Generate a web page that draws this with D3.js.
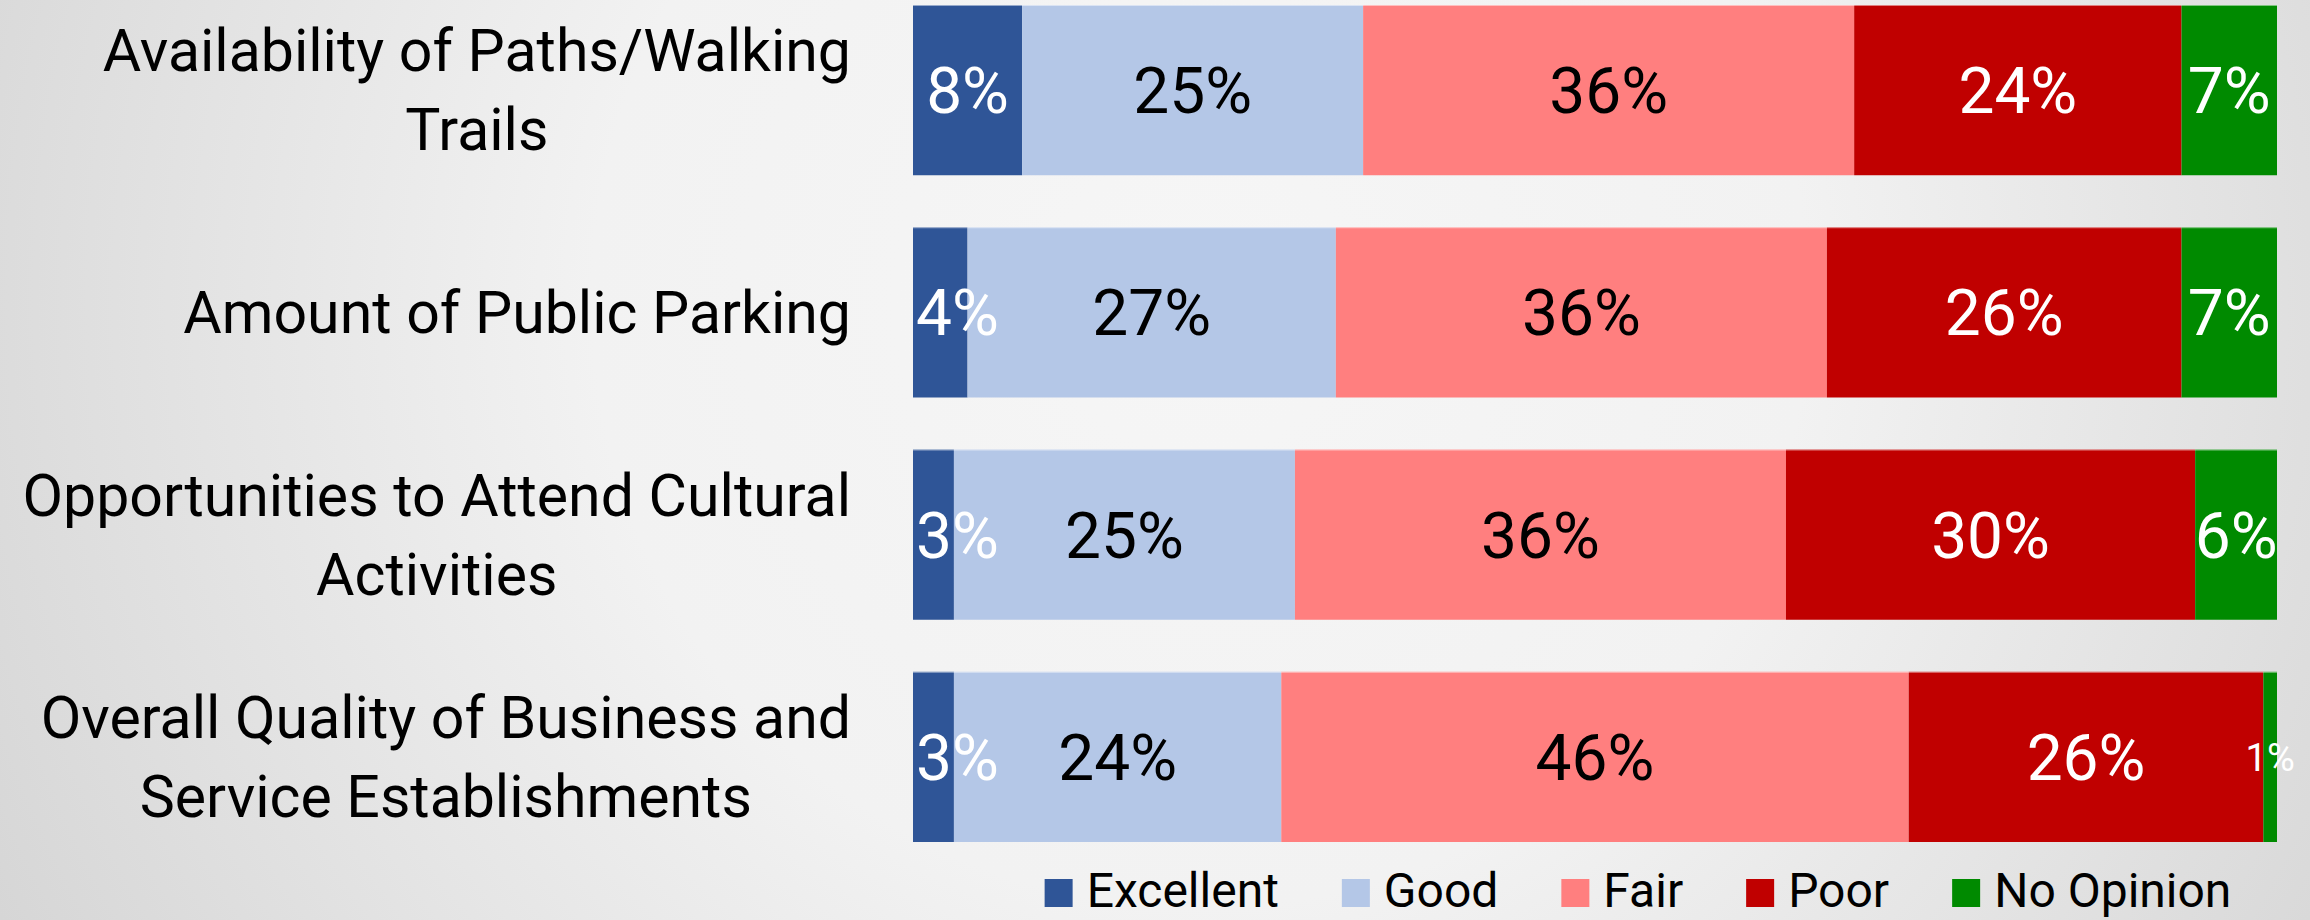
<!DOCTYPE html>
<html>
<head>
<meta charset="utf-8">
<script src="https://cdn.jsdelivr.net/npm/d3@7/dist/d3.min.js"></script>
<style>
html,body{margin:0;padding:0;overflow:hidden;}
svg{display:block;font-family:Roboto,"Liberation Sans",sans-serif;}
</style>
</head>
<body>
<svg id="chart" width="2310" height="920"></svg>
<script>
// ---- data ----
const categories = [
  "Availability of Paths/Walking Trails",
  "Amount of Public Parking",
  "Opportunities to Attend Cultural Activities",
  "Overall Quality of Business and Service Establishments"
];
const seriesNames = ["Excellent", "Good", "Fair", "Poor", "No Opinion"];
const excellent = [8, 4, 3, 3];
const good      = [25, 27, 25, 24];
const fair      = [36, 36, 36, 46];
const poor      = [24, 26, 30, 26];
const noOpinion = [7, 7, 6, 1];
const seriesColors = ["#2f5597", "#b4c7e7", "#ff7f7f", "#c00000", "#008a00"];
const labelColors  = ["#ffffff", "#000000", "#000000", "#ffffff", "#ffffff"];

const values = [excellent, good, fair, poor, noOpinion];
const rows = categories.map((c, i) => {
  const r = {category: c};
  seriesNames.forEach((s, k) => r[s] = values[k][i]);
  return r;
});

const W = 2310, H = 920;
const svg = d3.select("#chart");

// background gradient
const defs = svg.append("defs");
const rg = defs.append("radialGradient").attr("id", "bg")
  .attr("gradientUnits", "userSpaceOnUse")
  .attr("cx", 1200).attr("cy", 300).attr("r", 1350);
rg.append("stop").attr("offset", "0%").attr("stop-color", "#f6f6f6");
rg.append("stop").attr("offset", "45%").attr("stop-color", "#f2f2f2");
rg.append("stop").attr("offset", "100%").attr("stop-color", "#d6d6d6");
svg.append("rect").attr("width", W).attr("height", H).attr("fill", "url(#bg)");

const x = d3.scaleLinear().domain([0, 100]).range([913, 2277]);
const y = d3.scaleBand().domain(categories).range([-21, 868])
  .paddingInner(0.234).paddingOuter(0.117);

const stack = d3.stack().keys(seriesNames)(rows);

const g = svg.append("g");
const layers = g.selectAll("g.layer").data(stack).join("g")
  .attr("class", "layer")
  .attr("fill", (d, i) => seriesColors[i]);

layers.selectAll("rect").data(d => d).join("rect")
  .attr("x", d => x(d[0]))
  .attr("width", d => x(d[1]) - x(d[0]))
  .attr("y", d => y(d.data.category))
  .attr("height", y.bandwidth());

// thin light top edge of each bar
g.selectAll("line.edge").data(categories).join("line")
  .attr("class", "edge")
  .attr("x1", x(0)).attr("x2", x(100))
  .attr("y1", d => y(d) + 0.5).attr("y2", d => y(d) + 0.5)
  .attr("stroke", "#ffffff").attr("stroke-opacity", 0.5).attr("stroke-width", 1);

// value labels
stack.forEach((layer, k) => {
  const sel = g.append("g").selectAll("text").data(layer).join("text")
    .attr("y", d => y(d.data.category) + y.bandwidth() / 2)
    .attr("dy", "0.36em")
    .attr("text-anchor", "middle")
    .attr("font-size", d => (d[1] - d[0]) < 2 ? 38 : 64)
    .attr("fill", labelColors[k])
    .text(d => (d[1] - d[0]) + "%");
  sel.each(function(d) {
    const w = this.getComputedTextLength();
    let cx = (x(d[0]) + x(d[1])) / 2;
    cx = Math.max(cx, x(0) + w / 2 + 3);
    d3.select(this).attr("x", cx);
  });
});

// category labels (wrapped, centered block, right-aligned)
const labelFont = 59, lineH = 79, maxW = 900, rightEdge = 851;
const lg = svg.append("g").attr("font-size", labelFont).attr("fill", "#000");
categories.forEach(cat => {
  const t = lg.append("text").attr("text-anchor", "middle");
  const words = cat.split(" ");
  const lines = [];
  let cur = [];
  const probe = lg.append("text");
  words.forEach(w => {
    const test = cur.concat([w]).join(" ");
    probe.text(test);
    if (cur.length && probe.node().getComputedTextLength() > maxW) {
      lines.push(cur.join(" "));
      cur = [w];
    } else cur.push(w);
  });
  lines.push(cur.join(" "));
  let widest = 0;
  lines.forEach(l => { probe.text(l); widest = Math.max(widest, probe.node().getComputedTextLength()); });
  probe.remove();
  const cx = rightEdge - widest / 2;
  const cy = y(cat) + y.bandwidth() / 2;
  lines.forEach((l, i) => {
    t.append("tspan").attr("x", cx)
      .attr("y", cy + (i - (lines.length - 1) / 2) * lineH)
      .attr("dy", "0.35em")
      .text(l);
  });
});

// legend
const legFont = 48, sq = 28, gapT = 14, gapItem = 63, legCenter = 1638, legY = 879;
const leg = svg.append("g").attr("font-size", legFont);
const items = [];
let tot = 0;
seriesNames.forEach((s, i) => {
  const t = leg.append("text").text(s).attr("fill", "#000");
  const w = t.node().getComputedTextLength();
  items.push({t, w, i});
  tot += sq + gapT + w + (i < seriesNames.length - 1 ? gapItem : 0);
});
let lx = legCenter - tot / 2;
items.forEach(it => {
  leg.append("rect").attr("x", lx).attr("y", legY).attr("width", sq).attr("height", sq)
    .attr("fill", seriesColors[it.i]);
  it.t.attr("x", lx + sq + gapT).attr("y", legY + sq);
  lx += sq + gapT + it.w + gapItem;
});
</script>
</body>
</html>
